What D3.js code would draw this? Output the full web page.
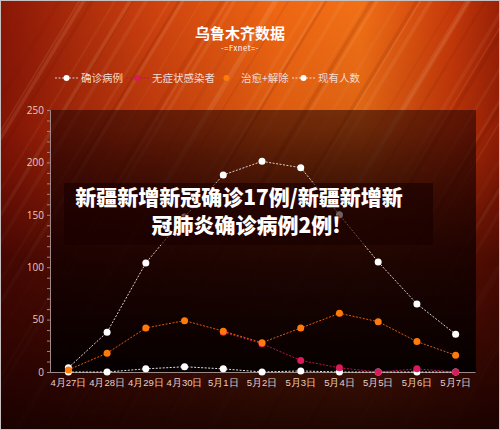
<!DOCTYPE html>
<html>
<head>
<meta charset="utf-8">
<script src="https://cdn.jsdelivr.net/npm/d3@7"></script>
<style>
  body { margin: 0; background: #000; }
  svg { display: block; font-family: "Noto Sans CJK SC", "Noto Sans", sans-serif; }
</style>
</head>
<body>
<script>
// dates along the x axis
var days = ['4月27日','4月28日','4月29日','4月30日','5月1日','5月2日','5月3日','5月4日','5月5日','5月6日','5月7日'];

// series values
var confirmed  = [4, 38, 104, 148, 188, 201, 195, 150, 105, 65, 36];
var current    = [0, 0, 3, 5, 3, 0, 1, 0, 0, 0, 0];
var asymptom   = [null, null, null, null, 38, 27, 11, 4, 0, 3, 0];
var cured      = [2, 18, 42, 49, 39, 28, 42, 56, 48, 29, 16];

var yTicks = [0, 50, 100, 150, 200, 250];

var seriesNames = ['确诊病例', '无症状感染者', '治愈+解除', '现有人数'];

var W = 500, H = 430;
var svg = d3.select('body').append('svg')
            .attr('width', W)
            .attr('height', H);
var defs = svg.append('defs');

/*
 * background: orange streaked poster
 */
var bg = defs.append('linearGradient').attr('id', 'bgH')
            .attr('x1', 0).attr('y1', 0).attr('x2', 1).attr('y2', 0);
[[0, '#8a1606'], [0.3, '#cc400e'], [0.55, '#f06612'], [0.72, '#f27016'], [0.9, '#c83a0a'], [1, '#9a2006']]
    .forEach(function(s) { bg.append('stop').attr('offset', s[0]).attr('stop-color', s[1]); });

var shade = defs.append('linearGradient').attr('id', 'bgV')
            .attr('x1', 0).attr('y1', 0).attr('x2', 0).attr('y2', 1);
[[0, 'rgba(40,0,0,0)'], [0.3, 'rgba(60,0,0,0.12)'], [0.6, 'rgba(40,0,0,0.7)'], [1, 'rgba(20,0,0,0.95)']]
    .forEach(function(s) { shade.append('stop').attr('offset', s[0]).attr('stop-color', s[1]); });

var plotShade = defs.append('linearGradient').attr('id', 'plotV')
            .attr('x1', 0).attr('y1', 0).attr('x2', 0).attr('y2', 1);
[[0, 'rgba(30,0,0,0.55)'], [0.5, 'rgba(20,0,0,0.8)'], [1, 'rgba(5,0,0,0.97)']]
    .forEach(function(s) { plotShade.append('stop').attr('offset', s[0]).attr('stop-color', s[1]); });

svg.append('rect').attr('width', W).attr('height', H).attr('fill', 'url(#bgH)');

// diagonal streaks (fixed pattern, decoration only)
var streaks = svg.append('g');
for (var i = 0; i < 60; i++) {
    var x0 = -200 + i * 13 + 7 * Math.sin(i * 1.7);
    var op = 0.04 + 0.09 * Math.abs(Math.sin(i * 2.3));
    streaks.append('line')
        .attr('x1', x0).attr('y1', H)
        .attr('x2', x0 + 260).attr('y2', 0)
        .attr('stroke', i % 3 ? '#ffd0a0' : '#5a0800')
        .attr('stroke-width', 1 + 3 * Math.abs(Math.cos(i * 1.3)))
        .attr('opacity', op);
}

svg.append('rect').attr('width', W).attr('height', H).attr('fill', 'url(#bgV)');

/*
 * title and legend
 */
svg.append('text')
    .attr('x', 240).attr('y', 39)
    .attr('text-anchor', 'middle')
    .attr('fill', '#fff')
    .style('font-size', '15px')
    .style('font-weight', 'bold')
    .text('乌鲁木齐数据');
svg.append('text')
    .attr('x', 240).attr('y', 51)
    .attr('text-anchor', 'middle')
    .attr('fill', '#fff')
    .style('font-size', '7.5px')
    .style('letter-spacing', '0.6px')
    .text('-=Fxnet=-');

var colors = ['#ffffff', '#d81b5a', '#ff7a0a', '#ffffff'];
var lineColors = ['#d8d0d0', '#b8144a', '#e05a08', '#e8e0e0'];
var legendX = [55, 126, 215, 292];
var legend = svg.append('g').attr('transform', 'translate(0,78)');
seriesNames.forEach(function(name, k) {
    var g = legend.append('g').attr('transform', 'translate(' + legendX[k] + ',0)');
    g.append('line').attr('x1', 0).attr('x2', 23).attr('y1', 0).attr('y2', 0)
        .attr('stroke', lineColors[k]).attr('stroke-dasharray', '2,1.5');
    g.append('circle').attr('cx', 11.5).attr('cy', 0).attr('r', 3).attr('fill', colors[k]);
    g.append('text').attr('x', 26).attr('y', 4)
        .attr('fill', '#f4dcd4')
        .style('font-size', '10.5px')
        .text(name);
});

/*
 * chart area
 */
var margin = {left: 50, right: 476, top: 110, bottom: 372};
var x = d3.scaleBand().domain(days).range([margin.left - 1, margin.right - 1]);
var y = d3.scaleLinear().domain([0, 250]).range([margin.bottom, margin.top]);

svg.append('rect')
    .attr('x', margin.left).attr('y', margin.top)
    .attr('width', margin.right - margin.left)
    .attr('height', margin.bottom - margin.top)
    .attr('fill', 'url(#plotV)');

// y axis with minor ticks
var yAxis = svg.append('g')
    .attr('transform', 'translate(' + margin.left + ',0)')
    .call(d3.axisLeft(y).tickValues(d3.range(0, 251, 10)).tickSize(3)
        .tickFormat(function(d) { return yTicks.indexOf(d) >= 0 ? d : ''; }));
yAxis.select('.domain').attr('stroke', '#a08888');
yAxis.selectAll('.tick line').attr('stroke', '#a08888');
yAxis.selectAll('.tick text')
    .attr('fill', '#e8c8c0')
    .style('font-size', '10px')
    .style('font-family', '"Open Sans", "Noto Sans", sans-serif');

// x axis
var xAxis = svg.append('g')
    .attr('transform', 'translate(0,' + margin.bottom + ')')
    .call(d3.axisBottom(x).tickSize(0).tickPadding(7));
xAxis.select('.domain').attr('stroke', '#9a8a8a').attr('stroke-width', 1.2);
xAxis.selectAll('.tick text')
    .attr('fill', '#e8d0c8')
    .style('font-size', '9.5px');

var cx = function(d, i) { return x(days[i]) + x.bandwidth() / 2; };
var line = d3.line()
    .defined(function(d) { return d !== null; })
    .x(cx)
    .y(function(d) { return y(d); });

function drawSeries(values, lc, pc, r) {
    var g = svg.append('g');
    g.append('path')
        .datum(values)
        .attr('d', line)
        .attr('fill', 'none')
        .attr('stroke', lc)
        .attr('stroke-width', 1)
        .attr('stroke-dasharray', '2,1.5');
    g.selectAll('circle')
        .data(values.map(function(v, i) { return {v: v, i: i}; }).filter(function(d) { return d.v !== null; }))
        .enter().append('circle')
        .attr('cx', function(d) { return cx(d.v, d.i); })
        .attr('cy', function(d) { return y(d.v); })
        .attr('r', r)
        .attr('fill', pc);
}

drawSeries(confirmed, lineColors[0], colors[0], 3.5);
drawSeries(current, lineColors[3], colors[3], 3.5);
drawSeries(asymptom, lineColors[1], colors[1], 3.5);
drawSeries(cured, lineColors[2], colors[2], 3.5);

/*
 * headline banner over the chart
 */
svg.append('rect')
    .attr('x', 64).attr('y', 183)
    .attr('width', 369).attr('height', 62)
    .attr('fill', 'rgba(25,0,0,0.62)');
var headline = ['新疆新增新冠确诊17例/新疆新增新', '冠肺炎确诊病例2例!'];
headline.forEach(function(t, k) {
    svg.append('text')
        .attr('x', 239 + k * 7).attr('y', 205 + k * 28)
        .attr('text-anchor', 'middle')
        .attr('fill', '#fff')
        .style('font-size', '21px')
        .style('font-weight', '900')
        .style('paint-order', 'stroke')
        .attr('stroke', 'rgba(40,0,0,0.6)')
        .attr('stroke-width', 2)
        .text(t);
});

// thin frame
svg.append('rect')
    .attr('x', 0.5).attr('y', 0.5).attr('width', W - 1).attr('height', H - 1)
    .attr('fill', 'none').attr('stroke', '#c8c0c0');
</script>
</body>
</html>
